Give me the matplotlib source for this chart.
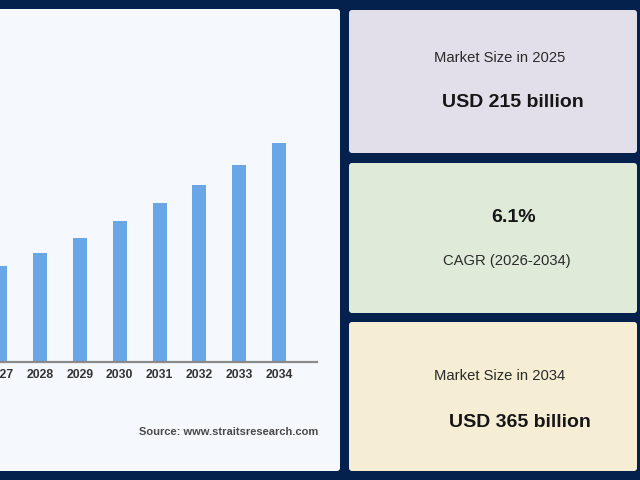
"""Market size infographic: bar chart panel plus three summary cards."""

import matplotlib.pyplot as plt
from matplotlib.patches import FancyBboxPatch

# data (USD billion)
years = ['2025', '2026', '2027', '2028', '2029', '2030', '2031', '2032', '2033', '2034']
values = [215, 228, 242, 255, 270, 287, 305, 323, 343, 365]

card_titles = ['Market Size in 2025', 'CAGR (2026-2034)', 'Market Size in 2034']
card_values = ['USD 215 billion', '6.1%', 'USD 365 billion']
source_text = 'Source: www.straitsresearch.com'

NAVY = '#04204c'
BAR = '#69a6e6'

plt.rcParams['font.family'] = ['Liberation Sans', 'DejaVu Sans']

fig = plt.figure(figsize=(6.4, 4.8), dpi=100)
fig.patch.set_facecolor(NAVY)

# background layer in pixel units (origin top-left)
bg = fig.add_axes([0, 0, 1, 1])
bg.set_xlim(0, 640)
bg.set_ylim(480, 0)
bg.axis('off')


def panel(x0, y0, x1, y1, color):
    bg.add_patch(FancyBboxPatch((x0, y0), x1 - x0, y1 - y0,
                                boxstyle='round,pad=0,rounding_size=3',
                                fc=color, ec='none'))


panel(-10, 9, 340, 471, '#f5f9fd')
panel(349, 10, 637, 153, '#e3dfea')
panel(349, 163, 637, 313, '#e0ead9')
panel(349, 322, 637, 471, '#f5eed4')

# card texts (y nudged so the visible glyphs centre where the reference has them)
dy = 2.5
bg.text(499.5, 55 + dy, card_titles[0], ha='center', va='center',
        fontsize=10.6, color='#2a2a2a')
bg.text(513, 100 + dy, card_values[0], ha='center', va='center',
        fontsize=14, fontweight='bold', color='#161616')
bg.text(514, 215 + dy, card_values[1], ha='center', va='center',
        fontsize=14, fontweight='bold', color='#161616')
bg.text(507, 258 + dy, card_titles[1], ha='center', va='center',
        fontsize=10.6, color='#2a2a2a')
bg.text(499.5, 374 + dy, card_titles[2], ha='center', va='center',
        fontsize=10.6, color='#2a2a2a')
bg.text(519.5, 420 + dy, card_values[2], ha='center', va='center',
        fontsize=14, fontweight='bold', color='#161616')
bg.text(318, 431 + 1, source_text, ha='right', va='center',
        fontsize=8, fontweight='bold', color='#4a4a4a')

# bar chart, partly cut off at the left edge like the reference
step = 39.8          # px between bars
left_px, right_px = -120, 317
base_px, top_px = 361.7, 130
x_hi = 9 + (right_px - 279) / step
x_lo = 9 - (279 - left_px) / step
y_lo = 146
y_hi = y_lo + (base_px - top_px)

ax = fig.add_axes([left_px / 640, (480 - base_px) / 480,
                   (right_px - left_px) / 640, (base_px - top_px) / 480])
ax.patch.set_alpha(0)
xs = list(range(len(years)))
ax.bar(xs, values, width=14 / step, color=BAR, zorder=2)
ax.set_xlim(x_lo, x_hi)
ax.set_ylim(y_lo, y_hi)
ax.set_xticks(xs)
ax.set_xticklabels(years, fontsize=8.8, fontweight='bold', color='#333333')
ax.tick_params(axis='x', length=0, pad=5.5)
ax.set_yticks([])
for side in ['top', 'right', 'left']:
    ax.spines[side].set_visible(False)
ax.spines['bottom'].set_color('#8a8a8a')
ax.spines['bottom'].set_linewidth(1.6)

fig.savefig('out.png', dpi=100, facecolor=NAVY)
